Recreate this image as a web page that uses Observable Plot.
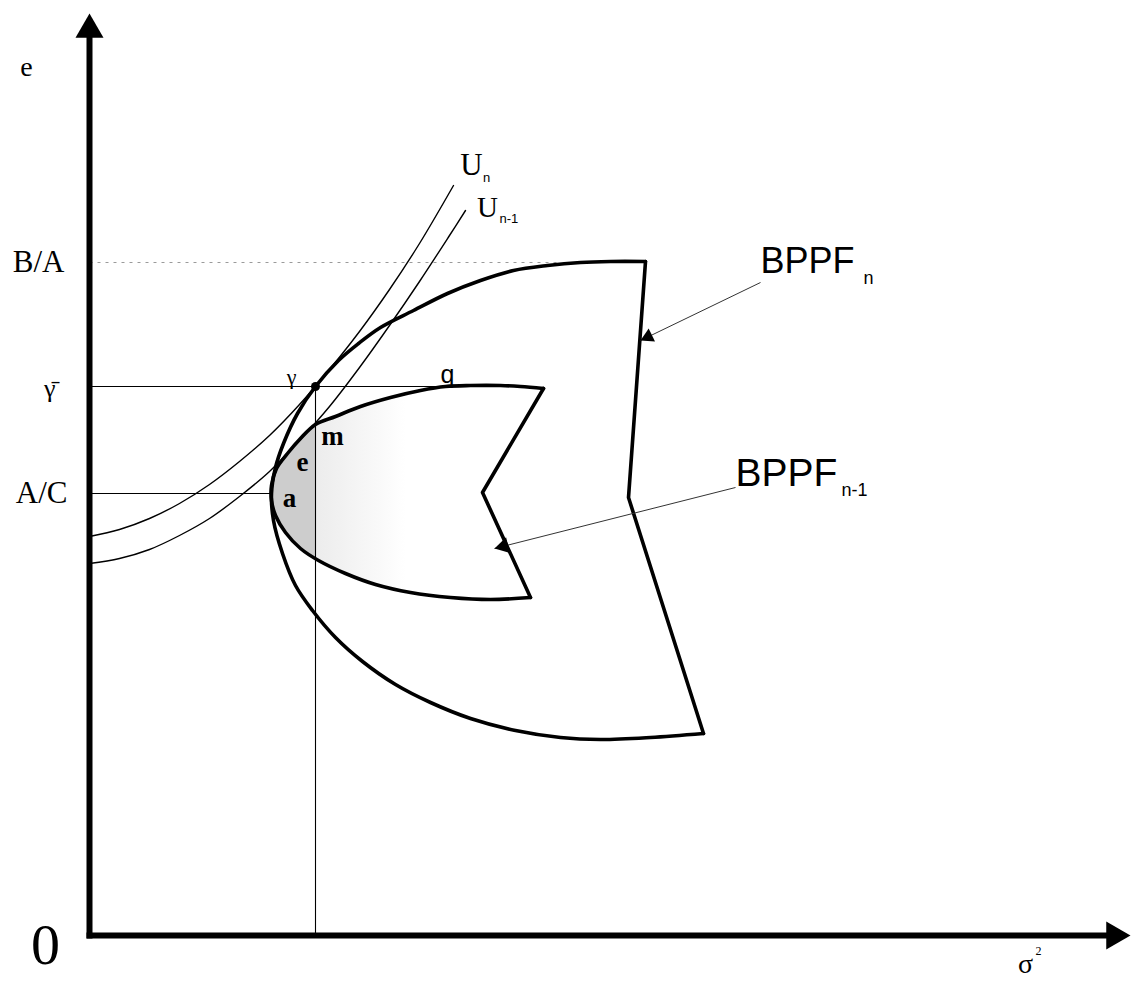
<!DOCTYPE html>
<html>
<head>
<meta charset="utf-8">
<script src="https://cdn.jsdelivr.net/npm/d3@7"></script>
<script src="https://cdn.jsdelivr.net/npm/@observablehq/plot@0.6"></script>
<style>
  html, body { margin: 0; padding: 0; background: #fff; overflow: hidden; }
</style>
</head>
<body>
<div id="chart"></div>
<script>
// Expected-return levels marked on the e axis
const levelBA = 673;        // B/A
const levelGammaBar = 549;  // γ̄
const levelAC = 442;        // A/C
// Variance at the tangency point γ
const sigmaGamma = 226;

// BPPF_n: curved frontier, from the upper corner round the vertex to the lower corner  [σ², e]
const bppfN = [
  [556,674],[521,674],[491,673],[458,670],[424,665],[391,655],[358,642],[324,625],
  [291,608],[269,592],[249,575],[226,549],[208,522],[194,492],[186,468],[182,442],
  [184,415],[193,382],[206,350],[223,325],[246,298],[273,274],[306,251],[341,233],
  [381,217],[426,205],[471,198],[511,196],[561,198],[614,202]
];
// BPPF_n: straight right-hand edge (lower corner, kink, upper corner)
const bppfNEdge = [[614,202],[539,438],[556,674]];

// BPPF_{n-1}: curved frontier
const bppfN1 = [
  [454,547],[431,549],[411,550],[381,550],[356,549],[331,545],[301,538],[271,529],
  [246,519],[226,511],[211,497],[198,482],[187,467],[182,450],[182,435],[186,420],
  [196,403],[211,387],[229,375],[256,362],[286,351],[321,343],[361,338],[401,336],[441,338]
];
// BPPF_{n-1}: straight right-hand edge
const bppfN1Edge = [[441,338],[393,443],[454,547]];

// Indifference curves U_n and U_{n-1}  [σ², e]
const uN = [
  [0,399],[30,406],[60,417],[90,432],[120,451],[150,474],[180,500],[210,531],
  [240,566],[270,604],[300,646],[330,692],[364,750]
];
const uN1 = [
  [0,372],[30,377],[60,386],[90,400],[120,417],[150,439],[180,464],[210,495],
  [240,529],[270,568],[300,610],[330,654],[360,700],[376,725]
];

// Axis extents (arrow tips)
const eAxisTop = 922;
const sigmaAxisEnd = 1041;

// Callout lines from the frontier labels: label corner -> arrow tip
const calloutN = {from: [671,653], to: [551,595]};
const calloutN1 = {from: [646,448], to: [405,387]};

// ---------------------------------------------------------------------------
const W = 1135, H = 989;
const xDomain = [-89, W - 89];
const yDomain = [935 - H, 935];
const X = d3.scaleLinear(xDomain, [0, W]);

const pts = (a) => a.map(([x, y]) => ({x, y}));

// y values where a polyline crosses the vertical x = x0
function crossings(a, x0) {
  const ys = [];
  for (let i = 1; i < a.length; i++) {
    const [xa, ya] = a[i - 1], [xb, yb] = a[i];
    if (xa !== xb && (xa - x0) * (xb - x0) <= 0) ys.push(ya + (yb - ya) * (x0 - xa) / (xb - xa));
  }
  return ys;
}

// Shaded sliver of BPPF_{n-1} to the left of σ²(γ)
const cuts = crossings(bppfN1, sigmaGamma);
const leftShade = [
  [sigmaGamma, d3.max(cuts)],
  ...bppfN1.filter(([x]) => x < sigmaGamma),
  [sigmaGamma, d3.min(cuts)]
];
// Whole BPPF_{n-1} region, used for the faint fading shade right of the line
const innerRegion = [...bppfN1, ...bppfN1Edge.slice(1)];

// Filled triangle arrowheads placed with their tip on a given point
const TIP = 1.5551; // centroid-to-tip distance of d3.symbolTriangle, in units of r
function head(from, to, r) {
  const dx = to[0] - from[0], dy = to[1] - from[1], L = Math.hypot(dx, dy);
  return {
    x: to[0] - TIP * r * dx / L,
    y: to[1] - TIP * r * dy / L,
    rotate: Math.atan2(dx, dy) * 180 / Math.PI,
    r
  };
}
const heads = [
  head([0, 0], [0, eAxisTop], 10.4),
  head([0, 0], [sigmaAxisEnd, 0], 10.4),
  head(calloutN.from, calloutN.to, 5.4),
  head(calloutN1.from, calloutN1.to, 6)
];

const serif = "Liberation Serif, Times New Roman, serif";
const sans = "Liberation Sans, Arial, sans-serif";
const txt = (text, x, y, o) => Plot.text([{x, y, text}], {x: "x", y: "y", text: "text", fill: "#000", ...o});

const svg = Plot.plot({
  width: W,
  height: H,
  margin: 0,
  x: {domain: xDomain, axis: null},
  y: {domain: yDomain, axis: null},
  r: {type: "identity"},
  style: {background: "#fff"},
  marks: [
    // shading
    Plot.line(pts(innerRegion), {x: "x", y: "y", fill: "url(#fade)", stroke: "none"}),
    Plot.line(pts(leftShade), {x: "x", y: "y", fill: "#cdcdcd", stroke: "none", curve: "catmull-rom"}),

    // reference lines
    Plot.link([{x1: 0, x2: 470, y: levelBA}], {x1: "x1", x2: "x2", y1: "y", y2: "y", stroke: "#9a9a9a", strokeWidth: 1, strokeDasharray: "3,5"}),
    Plot.link([{x1: 0, x2: 381, y: levelGammaBar}], {x1: "x1", x2: "x2", y1: "y", y2: "y", stroke: "#000", strokeWidth: 1.1}),
    Plot.link([{x1: 0, x2: 182, y: levelAC}], {x1: "x1", x2: "x2", y1: "y", y2: "y", stroke: "#000", strokeWidth: 1.1}),
    Plot.link([{x: sigmaGamma, y1: 0, y2: levelGammaBar}], {x1: "x", x2: "x", y1: "y1", y2: "y2", stroke: "#000", strokeWidth: 1.1}),

    // indifference curves
    Plot.line(pts(uN), {x: "x", y: "y", stroke: "#000", strokeWidth: 1.4, curve: "catmull-rom"}),
    Plot.line(pts(uN1), {x: "x", y: "y", stroke: "#000", strokeWidth: 1.4, curve: "catmull-rom"}),

    // frontiers
    Plot.line(pts(bppfN), {x: "x", y: "y", stroke: "#000", strokeWidth: 3.6, curve: "catmull-rom", strokeLinejoin: "round"}),
    Plot.line(pts(bppfNEdge), {x: "x", y: "y", stroke: "#000", strokeWidth: 3.6, strokeLinejoin: "round", strokeLinecap: "round"}),
    Plot.line(pts(bppfN1), {x: "x", y: "y", stroke: "#000", strokeWidth: 3.6, curve: "catmull-rom", strokeLinejoin: "round"}),
    Plot.line(pts(bppfN1Edge), {x: "x", y: "y", stroke: "#000", strokeWidth: 3.6, strokeLinejoin: "round", strokeLinecap: "round"}),

    // tangency point γ
    Plot.dot([{x: sigmaGamma, y: levelGammaBar}], {x: "x", y: "y", r: 4.5, fill: "#000", stroke: "none"}),

    // callout lines
    Plot.link([calloutN, calloutN1], {
      x1: d => d.from[0], y1: d => d.from[1], x2: d => d.to[0], y2: d => d.to[1],
      stroke: "#333", strokeWidth: 1
    }),

    // axes
    Plot.link([{x1: 0, y1: -3, x2: 0, y2: eAxisTop - 20}], {x1: "x1", y1: "y1", x2: "x2", y2: "y2", stroke: "#000", strokeWidth: 6}),
    Plot.link([{x1: -3, y1: 0, x2: sigmaAxisEnd - 20, y2: 0}], {x1: "x1", y1: "y1", x2: "x2", y2: "y2", stroke: "#000", strokeWidth: 6}),
    Plot.dot(heads, {x: "x", y: "y", r: "r", rotate: "rotate", symbol: "triangle", fill: "#000", stroke: "none"}),

    // axis labels
    txt("e", 0, eAxisTop, {dx: -63, dy: 54, fontFamily: serif, fontSize: 28}),
    txt("0", 0, 0, {dx: -44, dy: 10, fontFamily: serif, fontSize: 58}),
    txt("σ", sigmaAxisEnd, 0, {dx: -105, dy: 29, fontFamily: serif, fontSize: 28}),
    txt("2", sigmaAxisEnd, 0, {dx: -92, dy: 16, fontFamily: serif, fontSize: 12}),
    txt("B/A", 0, levelBA, {dx: -25, textAnchor: "end", fontFamily: serif, fontSize: 31}),
    txt("γ\u0304", 0, levelGammaBar, {dx: -34, dy: 2, textAnchor: "end", fontFamily: serif, fontSize: 26}),
    txt("A/C", 0, levelAC, {dx: -22, textAnchor: "end", fontFamily: serif, fontSize: 31}),

    // indifference curve labels
    txt("U", 364, 750, {dx: 18, dy: -20, fontFamily: serif, fontSize: 31}),
    txt("n", 364, 750, {dx: 33, dy: -8, fontFamily: sans, fontSize: 13}),
    txt("U", 376, 725, {dx: 22, dy: -3, fontFamily: serif, fontSize: 29}),
    txt("n-1", 376, 725, {dx: 34, dy: 8, textAnchor: "start", fontFamily: sans, fontSize: 13}),

    // frontier labels
    txt("BPPF", calloutN.from[0], calloutN.from[1], {dx: 0, dy: -21, textAnchor: "start", fontFamily: sans, fontSize: 36}),
    txt("n", calloutN.from[0], calloutN.from[1], {dx: 103, dy: -4, textAnchor: "start", fontFamily: sans, fontSize: 18}),
    txt("BPPF", calloutN1.from[0], calloutN1.from[1], {dx: 0, dy: -14, textAnchor: "start", fontFamily: sans, fontSize: 39}),
    txt("n-1", calloutN1.from[0], calloutN1.from[1], {dx: 106, dy: 3, textAnchor: "start", fontFamily: sans, fontSize: 18}),

    // point labels
    txt("γ", sigmaGamma, levelGammaBar, {dx: -24, dy: -10, fontFamily: serif, fontSize: 22}),
    txt("q", 358, levelGammaBar, {dy: -12, fontFamily: sans, fontSize: 25}),
    txt("m", sigmaGamma, 511, {dx: 17, dy: 12, fontFamily: serif, fontWeight: "bold", fontSize: 27}),
    txt("e", 213, 473, {fontFamily: serif, fontWeight: "bold", fontSize: 27}),
    txt("a", 182, levelAC, {dx: 18, dy: 5, fontFamily: serif, fontWeight: "bold", fontSize: 27})
  ]
});

// Horizontal fade for the light shading right of σ²(γ)
const defs = d3.select(svg).insert("defs", ":first-child");
const grad = defs.append("linearGradient")
  .attr("id", "fade")
  .attr("gradientUnits", "userSpaceOnUse")
  .attr("x1", X(sigmaGamma)).attr("x2", X(sigmaGamma + 90))
  .attr("y1", 0).attr("y2", 0);
grad.append("stop").attr("offset", 0).attr("stop-color", "#ececec");
grad.append("stop").attr("offset", 1).attr("stop-color", "#ffffff");

document.getElementById("chart").appendChild(svg);
</script>
</body>
</html>
